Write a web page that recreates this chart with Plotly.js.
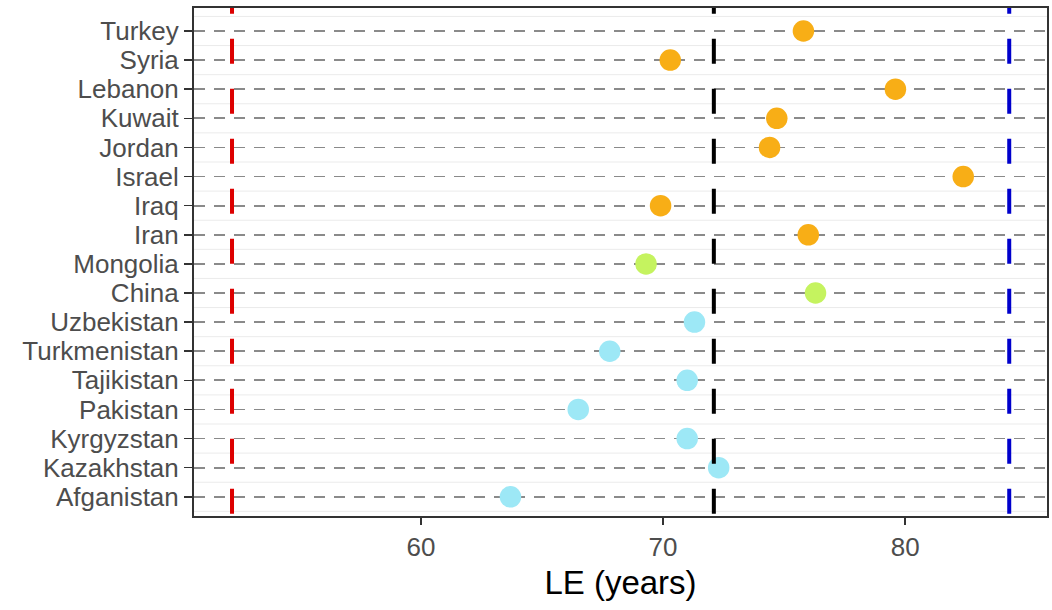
<!DOCTYPE html>
<html>
<head>
<meta charset="utf-8">
<script src="https://cdn.plot.ly/plotly-3.0.1.min.js"></script>
<style>html,body{margin:0;padding:0;background:#fff;}#chart{width:1052px;height:610px;}</style>
</head>
<body>
<div id="chart"></div>
<script>
// Data
const countries = ["Turkey","Syria","Lebanon","Kuwait","Jordan","Israel","Iraq","Iran",
  "Mongolia","China","Uzbekistan","Turkmenistan","Tajikistan","Pakistan","Kyrgyzstan","Kazakhstan","Afganistan"];
const lifeExp = [75.8, 70.3, 79.6, 74.7, 74.4, 82.4, 69.9, 76.0,
  69.3, 76.3, 71.3, 67.8, 71.0, 66.5, 71.0, 72.3, 63.7];
const region = ["ME","ME","ME","ME","ME","ME","ME","ME",
  "EA","EA","CA","CA","CA","CA","CA","CA","CA"];
const regionNames = ["ME","EA","CA"];
const regionColors = {ME: "#F8AE16", EA: "#C5F35F", CA: "#9DE8F6"};
const refValues = [52.2, 72.1, 84.3];
const refColors = ["#DD0000", "#000000", "#0000CC"];
const xTicks = [60, 70, 80];

const catOrder = countries.slice().reverse();

const traces = regionNames.map(r => {
  const xs = [], ys = [];
  countries.forEach((c, i) => { if (region[i] === r) { xs.push(lifeExp[i]); ys.push(c); } });
  return {
    type: "scatter", mode: "markers", x: xs, y: ys, name: r,
    marker: {size: 21.5, color: regionColors[r], line: {width: 0}},
    cliponaxis: false, hoverinfo: "x+y"
  };
});

const shapes = [];
// light solid lines between rows
for (let k = 0; k <= countries.length; k++) {
  shapes.push({type: "line", xref: "paper", yref: "y", x0: 0, x1: 1, y0: k - 0.5, y1: k - 0.5,
    line: {color: "#EBEBEB", width: 1}, layer: "below"});
}
// vertical reference lines
refValues.forEach((v, i) => {
  shapes.push({type: "line", xref: "x", yref: "y", x0: v, x1: v, y0: 17.45, y1: -1.6,
    line: {color: refColors[i], width: 4, dash: "25px,25px"}, layer: "above"});
});

const font = "Liberation Sans, Arial, sans-serif";
const layout = {
  width: 1052, height: 610,
  margin: {l: 194, r: 5, t: 8, b: 94},
  paper_bgcolor: "#ffffff", plot_bgcolor: "#ffffff",
  showlegend: false,
  font: {family: font, color: "#4D4D4D"},
  xaxis: {
    range: [50.63, 85.86], tickmode: "array", tickvals: xTicks, ticktext: xTicks.map(String),
    showgrid: false, zeroline: false,
    showline: true, linecolor: "#333333", linewidth: 2, mirror: true,
    ticks: "outside", ticklen: 7, tickwidth: 1.5, tickcolor: "#333333",
    tickfont: {size: 26, color: "#4D4D4D", family: font},
    title: {text: "LE (years)", font: {size: 33, color: "#000000", family: font}, standoff: 10}
  },
  yaxis: {
    type: "category", categoryorder: "array", categoryarray: catOrder,
    tickmode: "array", tickvals: catOrder, ticktext: catOrder,
    range: [-0.66, 16.79],
    showgrid: true, gridcolor: "#8A8A8A", gridwidth: 1.8, griddash: "11px,9px",
    zeroline: false,
    showline: true, linecolor: "#333333", linewidth: 2, mirror: true,
    ticks: "outside", ticklen: 8, tickwidth: 1.5, tickcolor: "#333333",
    tickfont: {size: 26, color: "#4D4D4D", family: font}
  },
  shapes: shapes
};

Plotly.newPlot("chart", traces, layout, {displayModeBar: false, staticPlot: true});
</script>
</body>
</html>
